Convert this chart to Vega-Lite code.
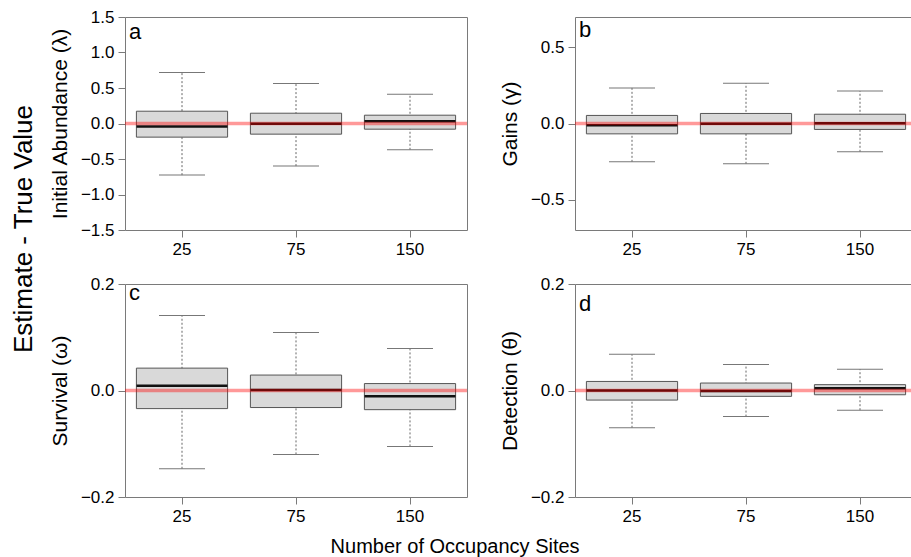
{
  "$schema": "https://vega.github.io/schema/vega-lite/v6.json",
  "padding": {"left": 10, "top": 7, "right": 0, "bottom": 0},
  "background": "white",
  "datasets": {
    "a": [
      {"n": "25", "lower": -0.727, "q1": -0.192, "median": -0.042, "q3": 0.173, "upper": 0.717},
      {"n": "75", "lower": -0.6, "q1": -0.15, "median": -0.005, "q3": 0.145, "upper": 0.563},
      {"n": "150", "lower": -0.37, "q1": -0.08, "median": 0.033, "q3": 0.117, "upper": 0.413}
    ],
    "b": [
      {"n": "25", "lower": -0.252, "q1": -0.068, "median": -0.011, "q3": 0.053, "upper": 0.234},
      {"n": "75", "lower": -0.265, "q1": -0.068, "median": -0.002, "q3": 0.066, "upper": 0.265},
      {"n": "150", "lower": -0.186, "q1": -0.039, "median": 0.002, "q3": 0.061, "upper": 0.214}
    ],
    "c": [
      {"n": "25", "lower": -0.147, "q1": -0.034, "median": 0.009, "q3": 0.042, "upper": 0.141},
      {"n": "75", "lower": -0.12, "q1": -0.032, "median": 0.001, "q3": 0.029, "upper": 0.109},
      {"n": "150", "lower": -0.105, "q1": -0.036, "median": -0.011, "q3": 0.013, "upper": 0.079}
    ],
    "d": [
      {"n": "25", "lower": -0.07, "q1": -0.018, "median": 0.0, "q3": 0.017, "upper": 0.068},
      {"n": "75", "lower": -0.049, "q1": -0.011, "median": -0.001, "q3": 0.014, "upper": 0.049},
      {"n": "150", "lower": -0.037, "q1": -0.008, "median": 0.004, "q3": 0.011, "upper": 0.04}
    ],
    "ref": [{"truth": 0}]
  },
  "title": {"text": "Estimate  - True Value", "orient": "left", "anchor": "middle", "font": "Liberation Sans", "fontSize": 26, "fontWeight": "normal", "color": "#000", "offset": 12, "dx": 53},
  "hconcat": [
    {
      "title": {"text": "Number of Occupancy Sites", "orient": "bottom", "anchor": "middle", "font": "Liberation Sans", "fontSize": 20, "fontWeight": "normal", "color": "#000", "offset": 12, "dx": -29},
      "columns": 2,
      "spacing": {"row": 54, "column": 108},
      "bounds": "flush",
      "concat": [
        {
          "width": 342, "height": 213,
          "title": {"text": "a", "anchor": "start", "frame": "group", "offset": -36, "dx": 4, "fontSize": 22, "fontWeight": "normal", "color": "#000"},
          "layer": [
            {"data": {"name": "a"}, "mark": {"type": "rule", "strokeDash": [2, 2], "color": "#666", "strokeWidth": 1}, "encoding": {"x": {"field": "n", "type": "ordinal", "sort": ["25", "75", "150"], "scale": {"paddingInner": 0.2, "paddingOuter": 0.1}, "axis": {"title": null, "labelAngle": 0}}, "y": {"field": "lower", "type": "quantitative", "scale": {"domain": [-1.5, 1.5], "nice": false}, "axis": {"title": "Initial Abundance (λ)", "tickCount": 6, "format": ".1f", "labelOverlap": false, "labelBound": false, "labelFlush": false}}, "y2": {"field": "upper"}}},
            {"data": {"name": "a"}, "mark": {"type": "tick", "size": 46, "thickness": 1, "color": "#777", "opacity": 1}, "encoding": {"x": {"field": "n", "type": "ordinal", "sort": ["25", "75", "150"]}, "y": {"field": "upper", "type": "quantitative", "scale": {"domain": [-1.5, 1.5], "nice": false}}}},
            {"data": {"name": "a"}, "mark": {"type": "tick", "size": 46, "thickness": 1, "color": "#777", "opacity": 1}, "encoding": {"x": {"field": "n", "type": "ordinal", "sort": ["25", "75", "150"]}, "y": {"field": "lower", "type": "quantitative", "scale": {"domain": [-1.5, 1.5], "nice": false}}}},
            {"data": {"name": "a"}, "mark": {"type": "bar", "fill": "#D9D9D9", "stroke": "#555", "strokeWidth": 1}, "encoding": {"x": {"field": "n", "type": "ordinal", "sort": ["25", "75", "150"]}, "y": {"field": "q1", "type": "quantitative", "scale": {"domain": [-1.5, 1.5], "nice": false}}, "y2": {"field": "q3"}}},
            {"data": {"name": "a"}, "mark": {"type": "tick", "size": 91, "thickness": 2.5, "color": "#111", "opacity": 1}, "encoding": {"x": {"field": "n", "type": "ordinal", "sort": ["25", "75", "150"]}, "y": {"field": "median", "type": "quantitative", "scale": {"domain": [-1.5, 1.5], "nice": false}}}},
            {"data": {"name": "ref"}, "mark": {"type": "rule", "color": "#FF0000", "opacity": 0.4, "strokeWidth": 3.5}, "encoding": {"y": {"field": "truth", "type": "quantitative", "scale": {"domain": [-1.5, 1.5], "nice": false}}}}
          ]
        },
        {
          "width": 342, "height": 213,
          "title": {"text": "b", "anchor": "start", "frame": "group", "offset": -25, "dx": 4, "fontSize": 22, "fontWeight": "normal", "color": "#000"},
          "layer": [
            {"data": {"name": "b"}, "mark": {"type": "rule", "strokeDash": [2, 2], "color": "#666", "strokeWidth": 1}, "encoding": {"x": {"field": "n", "type": "ordinal", "sort": ["25", "75", "150"], "scale": {"paddingInner": 0.2, "paddingOuter": 0.1}, "axis": {"title": null, "labelAngle": 0}}, "y": {"field": "lower", "type": "quantitative", "scale": {"domain": [-0.7, 0.7], "nice": false}, "axis": {"title": "Gains (γ)", "values": [-0.5, 0, 0.5], "format": ".1f", "labelOverlap": false}}, "y2": {"field": "upper"}}},
            {"data": {"name": "b"}, "mark": {"type": "tick", "size": 46, "thickness": 1, "color": "#777", "opacity": 1}, "encoding": {"x": {"field": "n", "type": "ordinal", "sort": ["25", "75", "150"]}, "y": {"field": "upper", "type": "quantitative", "scale": {"domain": [-0.7, 0.7], "nice": false}}}},
            {"data": {"name": "b"}, "mark": {"type": "tick", "size": 46, "thickness": 1, "color": "#777", "opacity": 1}, "encoding": {"x": {"field": "n", "type": "ordinal", "sort": ["25", "75", "150"]}, "y": {"field": "lower", "type": "quantitative", "scale": {"domain": [-0.7, 0.7], "nice": false}}}},
            {"data": {"name": "b"}, "mark": {"type": "bar", "fill": "#D9D9D9", "stroke": "#555", "strokeWidth": 1}, "encoding": {"x": {"field": "n", "type": "ordinal", "sort": ["25", "75", "150"]}, "y": {"field": "q1", "type": "quantitative", "scale": {"domain": [-0.7, 0.7], "nice": false}}, "y2": {"field": "q3"}}},
            {"data": {"name": "b"}, "mark": {"type": "tick", "size": 91, "thickness": 2.5, "color": "#111", "opacity": 1}, "encoding": {"x": {"field": "n", "type": "ordinal", "sort": ["25", "75", "150"]}, "y": {"field": "median", "type": "quantitative", "scale": {"domain": [-0.7, 0.7], "nice": false}}}},
            {"data": {"name": "ref"}, "mark": {"type": "rule", "color": "#FF0000", "opacity": 0.4, "strokeWidth": 3.5}, "encoding": {"y": {"field": "truth", "type": "quantitative", "scale": {"domain": [-0.7, 0.7], "nice": false}}}}
          ]
        },
        {
          "width": 342, "height": 213,
          "title": {"text": "c", "anchor": "start", "frame": "group", "offset": -30, "dx": 4, "fontSize": 22, "fontWeight": "normal", "color": "#000"},
          "layer": [
            {"data": {"name": "c"}, "mark": {"type": "rule", "strokeDash": [2, 2], "color": "#666", "strokeWidth": 1}, "encoding": {"x": {"field": "n", "type": "ordinal", "sort": ["25", "75", "150"], "scale": {"paddingInner": 0.2, "paddingOuter": 0.1}, "axis": {"title": null, "labelAngle": 0}}, "y": {"field": "lower", "type": "quantitative", "scale": {"domain": [-0.2, 0.2], "nice": false}, "axis": {"title": "Survival (ω)", "values": [-0.2, 0, 0.2], "format": ".1f", "labelOverlap": false, "labelFlush": false}}, "y2": {"field": "upper"}}},
            {"data": {"name": "c"}, "mark": {"type": "tick", "size": 46, "thickness": 1, "color": "#777", "opacity": 1}, "encoding": {"x": {"field": "n", "type": "ordinal", "sort": ["25", "75", "150"]}, "y": {"field": "upper", "type": "quantitative", "scale": {"domain": [-0.2, 0.2], "nice": false}}}},
            {"data": {"name": "c"}, "mark": {"type": "tick", "size": 46, "thickness": 1, "color": "#777", "opacity": 1}, "encoding": {"x": {"field": "n", "type": "ordinal", "sort": ["25", "75", "150"]}, "y": {"field": "lower", "type": "quantitative", "scale": {"domain": [-0.2, 0.2], "nice": false}}}},
            {"data": {"name": "c"}, "mark": {"type": "bar", "fill": "#D9D9D9", "stroke": "#555", "strokeWidth": 1}, "encoding": {"x": {"field": "n", "type": "ordinal", "sort": ["25", "75", "150"]}, "y": {"field": "q1", "type": "quantitative", "scale": {"domain": [-0.2, 0.2], "nice": false}}, "y2": {"field": "q3"}}},
            {"data": {"name": "c"}, "mark": {"type": "tick", "size": 91, "thickness": 2.5, "color": "#111", "opacity": 1}, "encoding": {"x": {"field": "n", "type": "ordinal", "sort": ["25", "75", "150"]}, "y": {"field": "median", "type": "quantitative", "scale": {"domain": [-0.2, 0.2], "nice": false}}}},
            {"data": {"name": "ref"}, "mark": {"type": "rule", "color": "#FF0000", "opacity": 0.4, "strokeWidth": 3.5}, "encoding": {"y": {"field": "truth", "type": "quantitative", "scale": {"domain": [-0.2, 0.2], "nice": false}}}}
          ]
        },
        {
          "width": 342, "height": 213,
          "title": {"text": "d", "anchor": "start", "frame": "group", "offset": -41, "dx": 4, "fontSize": 22, "fontWeight": "normal", "color": "#000"},
          "layer": [
            {"data": {"name": "d"}, "mark": {"type": "rule", "strokeDash": [2, 2], "color": "#666", "strokeWidth": 1}, "encoding": {"x": {"field": "n", "type": "ordinal", "sort": ["25", "75", "150"], "scale": {"paddingInner": 0.2, "paddingOuter": 0.1}, "axis": {"title": null, "labelAngle": 0}}, "y": {"field": "lower", "type": "quantitative", "scale": {"domain": [-0.2, 0.2], "nice": false}, "axis": {"title": "Detection (θ)", "values": [-0.2, 0, 0.2], "format": ".1f", "labelOverlap": false, "labelFlush": false}}, "y2": {"field": "upper"}}},
            {"data": {"name": "d"}, "mark": {"type": "tick", "size": 46, "thickness": 1, "color": "#777", "opacity": 1}, "encoding": {"x": {"field": "n", "type": "ordinal", "sort": ["25", "75", "150"]}, "y": {"field": "upper", "type": "quantitative", "scale": {"domain": [-0.2, 0.2], "nice": false}}}},
            {"data": {"name": "d"}, "mark": {"type": "tick", "size": 46, "thickness": 1, "color": "#777", "opacity": 1}, "encoding": {"x": {"field": "n", "type": "ordinal", "sort": ["25", "75", "150"]}, "y": {"field": "lower", "type": "quantitative", "scale": {"domain": [-0.2, 0.2], "nice": false}}}},
            {"data": {"name": "d"}, "mark": {"type": "bar", "fill": "#D9D9D9", "stroke": "#555", "strokeWidth": 1}, "encoding": {"x": {"field": "n", "type": "ordinal", "sort": ["25", "75", "150"]}, "y": {"field": "q1", "type": "quantitative", "scale": {"domain": [-0.2, 0.2], "nice": false}}, "y2": {"field": "q3"}}},
            {"data": {"name": "d"}, "mark": {"type": "tick", "size": 91, "thickness": 2.5, "color": "#111", "opacity": 1}, "encoding": {"x": {"field": "n", "type": "ordinal", "sort": ["25", "75", "150"]}, "y": {"field": "median", "type": "quantitative", "scale": {"domain": [-0.2, 0.2], "nice": false}}}},
            {"data": {"name": "ref"}, "mark": {"type": "rule", "color": "#FF0000", "opacity": 0.4, "strokeWidth": 3.5}, "encoding": {"y": {"field": "truth", "type": "quantitative", "scale": {"domain": [-0.2, 0.2], "nice": false}}}}
          ]
        }
      ]
    }
  ],
  "config": {
    "font": "Liberation Sans",
    "view": {"stroke": "#7a7a7a", "strokeWidth": 1},
    "axis": {"grid": false, "domain": false, "tickColor": "#7a7a7a", "tickSize": 7, "labelFontSize": 17, "labelColor": "#000", "labelPadding": 4, "labelOverlap": false, "titleFontSize": 21, "titleFontWeight": "normal", "titleColor": "#000", "titlePadding": 10, "labelFont": "Liberation Sans", "titleFont": "Liberation Sans"},
    "title": {"font": "Liberation Sans"}
  }
}
